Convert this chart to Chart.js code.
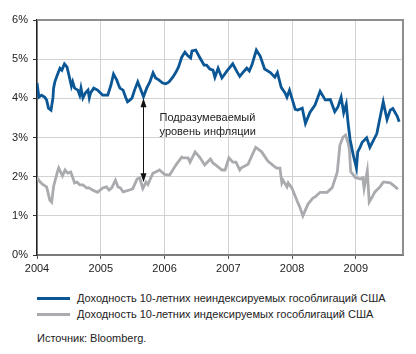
<!DOCTYPE html>
<html>
<head>
<meta charset="utf-8">
<script src="https://cdn.jsdelivr.net/npm/chart.js@4"></script>
<style>
  html, body { margin: 0; padding: 0; background: #fff; }
  body { width: 416px; height: 354px; position: relative; overflow: hidden; font-family: "Liberation Sans", Arial, sans-serif; }
  #wrap { position: absolute; left: 0; top: 0; width: 416px; height: 280px; }
  .leg { position: absolute; left: 37px; font-size: 11px; color: #222; white-space: nowrap; }
  .leg i { display: inline-block; width: 33px; height: 3px; vertical-align: middle; margin-right: 7px; position: relative; top: -1px; }
  #src { position: absolute; left: 37px; top: 332px; font-size: 11px; color: #222; }
</style>
</head>
<body>
<div id="wrap"><canvas id="c" width="416" height="280"></canvas></div>
<div class="leg" style="top:292px"><i style="background:#0b5796"></i>Доходность 10-летних неиндексируемых гособлигаций США</div>
<div class="leg" style="top:308px"><i style="background:#a9abae"></i>Доходность 10-летних индексируемых гособлигаций США</div>
<div id="src">Источник: Bloomberg.</div>
<script>
// nominal 10y treasury yield, % (dates as decimal years)
const nominalDates = [
  2004.00, 2004.03, 2004.07, 2004.12, 2004.15, 2004.18, 2004.22, 2004.25, 2004.26, 2004.28,
  2004.32, 2004.36, 2004.39, 2004.43, 2004.47, 2004.50, 2004.54, 2004.56, 2004.59, 2004.64,
  2004.67, 2004.69, 2004.72, 2004.76, 2004.80, 2004.82, 2004.84, 2004.89, 2004.95, 2004.98,
  2005.03, 2005.11, 2005.16, 2005.20, 2005.25, 2005.28, 2005.30, 2005.35, 2005.39, 2005.42,
  2005.46, 2005.49, 2005.53, 2005.58, 2005.63, 2005.67, 2005.72, 2005.77, 2005.82, 2005.86,
  2005.91, 2005.97, 2006.02, 2006.07, 2006.13, 2006.18, 2006.22, 2006.27, 2006.32, 2006.37,
  2006.41, 2006.43, 2006.49, 2006.55, 2006.62, 2006.66, 2006.71, 2006.76, 2006.79, 2006.84,
  2006.90, 2006.98, 2007.07, 2007.14, 2007.18, 2007.24, 2007.29, 2007.33, 2007.37, 2007.44,
  2007.50, 2007.57, 2007.66, 2007.73, 2007.77, 2007.83, 2007.89, 2007.92, 2007.96, 2008.05,
  2008.09, 2008.16, 2008.21, 2008.28, 2008.36, 2008.44, 2008.52, 2008.60, 2008.67, 2008.72,
  2008.77, 2008.81, 2008.85, 2008.88, 2008.91, 2008.96, 2009.01, 2009.03, 2009.07, 2009.10,
  2009.14, 2009.17, 2009.22, 2009.27, 2009.33, 2009.38, 2009.43, 2009.49, 2009.54, 2009.58,
  2009.65, 2009.68
];
const nominalYield = [
  4.39, 4.03, 4.08, 4.03, 3.96, 3.75, 3.70, 4.01, 4.26, 4.42,
  4.60, 4.77, 4.72, 4.88, 4.80, 4.60, 4.31, 4.42, 4.26, 4.21,
  4.08, 4.26, 4.01, 4.14, 4.21, 4.01, 4.14, 4.26, 4.21, 4.16,
  4.08, 4.08, 4.34, 4.62, 4.47, 4.34, 4.26, 4.21, 4.03, 3.91,
  3.96, 4.01, 4.21, 4.42, 4.21, 4.04, 4.26, 4.42, 4.65, 4.52,
  4.47, 4.39, 4.37, 4.42, 4.54, 4.67, 4.80, 5.05, 5.18, 5.08,
  5.03, 5.21, 5.23, 5.05, 4.85, 4.85, 4.75, 4.72, 4.54, 4.77,
  4.52, 4.70, 4.88, 4.67, 4.56, 4.68, 4.77, 4.70, 4.85, 5.23,
  5.08, 4.75, 4.66, 4.54, 4.66, 4.28, 4.14, 4.03, 4.21, 3.72,
  3.70, 3.75, 3.36, 3.64, 3.83, 4.18, 3.96, 3.97, 3.66, 3.78,
  4.03, 3.63, 3.85, 3.35, 2.95, 2.55, 2.22, 2.63, 2.76, 2.88,
  2.94, 2.99, 2.75, 2.91, 3.10, 3.51, 3.91, 3.46, 3.70, 3.74,
  3.54, 3.40
];

// inflation-indexed (TIPS) 10y yield, %
const tipsDates = [
  2004.00, 2004.05, 2004.09, 2004.15, 2004.17, 2004.20, 2004.23, 2004.26, 2004.32, 2004.34,
  2004.40, 2004.44, 2004.48, 2004.53, 2004.59, 2004.63, 2004.67, 2004.72, 2004.78, 2004.81,
  2004.87, 2004.95, 2005.03, 2005.09, 2005.13, 2005.17, 2005.23, 2005.27, 2005.31, 2005.35,
  2005.39, 2005.45, 2005.50, 2005.57, 2005.61, 2005.66, 2005.71, 2005.74, 2005.79, 2005.82,
  2005.86, 2005.92, 2006.00, 2006.08, 2006.16, 2006.18, 2006.27, 2006.29, 2006.37, 2006.40,
  2006.48, 2006.55, 2006.63, 2006.72, 2006.76, 2006.84, 2006.90, 2006.95, 2007.01, 2007.07,
  2007.12, 2007.18, 2007.20, 2007.31, 2007.43, 2007.52, 2007.62, 2007.73, 2007.76, 2007.81,
  2007.84, 2007.86, 2007.92, 2007.94, 2008.00, 2008.08, 2008.12, 2008.17, 2008.25, 2008.33,
  2008.36, 2008.44, 2008.55, 2008.63, 2008.71, 2008.75, 2008.80, 2008.84, 2008.88, 2008.90,
  2008.92, 2008.94, 2008.99, 2009.07, 2009.11, 2009.13, 2009.18, 2009.21, 2009.25, 2009.30,
  2009.33, 2009.38, 2009.43, 2009.46, 2009.54, 2009.62, 2009.66
];
const tipsYield = [
  1.97, 1.86, 1.80, 1.74, 1.61, 1.40, 1.35, 1.75, 2.12, 2.22,
  2.02, 2.17, 2.09, 2.12, 1.84, 1.86, 1.79, 1.79, 1.71, 1.72,
  1.66, 1.60, 1.71, 1.74, 1.66, 1.71, 1.91, 1.74, 1.71, 1.61,
  1.63, 1.66, 1.69, 1.94, 1.97, 1.70, 1.86, 1.80, 1.99, 2.09,
  2.12, 2.17, 2.06, 2.04, 2.25, 2.30, 2.50, 2.48, 2.48, 2.37,
  2.63, 2.50, 2.30, 2.45, 2.35, 2.25, 2.17, 2.17, 2.48, 2.37,
  2.37, 2.17, 2.22, 2.32, 2.75, 2.64, 2.40, 2.25, 2.22, 2.22,
  1.84, 1.91, 1.74, 1.84, 1.70, 1.38, 1.23, 1.00, 1.30, 1.46,
  1.48, 1.60, 1.60, 1.72, 2.12, 2.80, 3.01, 3.06, 2.86, 2.68,
  2.12, 2.09, 1.98, 1.94, 1.97, 1.70, 2.15, 1.35, 1.46, 1.61,
  1.66, 1.74, 1.86, 1.86, 1.84, 1.74, 1.68
];

const xMin = 2004, xMax = 2009.74;
const yMin = 0, yMax = 6;
const yearTicks = [2004, 2005, 2006, 2007, 2008, 2009];

// annotation: the gap between the two curves
const gapAt = 2005.67;
const gapTop = 4.0, gapBottom = 1.86;
const gapLabel = ["Подразумеваемый", "уровень инфляции"];

const BLUE = "#0b5796";
const GREY = "#a9abae";
const FONT = "'Liberation Sans', Arial, sans-serif";

function toPoints(xs, ys) {
  return xs.map((x, i) => ({ x, y: ys[i] }));
}

const decorPlugin = {
  id: "decor",
  afterDraw(chart) {
    const { ctx, chartArea: a, scales: { x, y } } = chart;
    ctx.save();

    // top + right frame
    ctx.strokeStyle = "#8e8e8e";
    ctx.lineWidth = 2;
    ctx.beginPath();
    ctx.moveTo(a.left, a.top);
    ctx.lineTo(a.right, a.top);
    ctx.lineTo(a.right, a.bottom);
    ctx.stroke();

    // double headed arrow
    const ax = Math.round(x.getPixelForValue(gapAt)) + 0.5;
    const y1 = y.getPixelForValue(gapTop);
    const y2 = y.getPixelForValue(gapBottom);
    ctx.strokeStyle = "#111";
    ctx.fillStyle = "#111";
    ctx.lineWidth = 1;
    ctx.beginPath();
    ctx.moveTo(ax, y1 + 4);
    ctx.lineTo(ax, y2 - 4);
    ctx.stroke();
    ctx.beginPath();
    ctx.moveTo(ax, y1);
    ctx.lineTo(ax - 3, y1 + 9);
    ctx.lineTo(ax + 3, y1 + 9);
    ctx.closePath();
    ctx.fill();
    ctx.beginPath();
    ctx.moveTo(ax, y2);
    ctx.lineTo(ax - 3, y2 - 9);
    ctx.lineTo(ax + 3, y2 - 9);
    ctx.closePath();
    ctx.fill();

    // label next to it
    ctx.font = "11px " + FONT;
    ctx.fillStyle = "#222";
    ctx.textBaseline = "middle";
    ctx.textAlign = "left";
    const tx = ax + 16;
    const ty = y.getPixelForValue(3.5);
    gapLabel.forEach((s, i) => ctx.fillText(s, tx, ty + i * 14));

    ctx.restore();
  }
};

new Chart(document.getElementById("c"), {
  type: "line",
  data: {
    datasets: [
      {
        label: "nominal",
        data: toPoints(nominalDates, nominalYield),
        borderColor: BLUE,
        borderWidth: 2.8,
        pointRadius: 0,
        tension: 0
      },
      {
        label: "tips",
        data: toPoints(tipsDates, tipsYield),
        borderColor: GREY,
        borderWidth: 2.8,
        pointRadius: 0,
        tension: 0
      }
    ]
  },
  options: {
    responsive: false,
    animation: false,
    devicePixelRatio: 1,
    layout: { padding: { left: 0, top: 20, right: 13, bottom: 0 } },
    plugins: { legend: { display: false }, tooltip: { enabled: false } },
    scales: {
      x: {
        type: "linear",
        min: xMin,
        max: xMax,
        afterFit: s => { s.height = 25; },
        afterBuildTicks: s => {
          s.ticks = yearTicks.map(v => ({ value: v }));
        },
        ticks: {
          callback: v => String(v),
          color: "#222",
          font: { family: FONT, size: 11 },
          padding: 3,
          maxRotation: 0
        },
        grid: { color: "#d2d2d2", lineWidth: 1, tickLength: 4, tickColor: "#555" },
        border: { color: "#7a7a7a", width: 2 }
      },
      y: {
        min: yMin,
        max: yMax,
        afterFit: s => { s.width = 37; },
        ticks: {
          stepSize: 1,
          callback: v => v + "%",
          color: "#222",
          font: { family: FONT, size: 11 },
          padding: 5
        },
        grid: { color: "#d2d2d2", lineWidth: 1, tickLength: 4, tickColor: "#333" },
        border: { color: "#222", width: 1.5 }
      }
    }
  },
  plugins: [decorPlugin]
});
</script>
</body>
</html>
